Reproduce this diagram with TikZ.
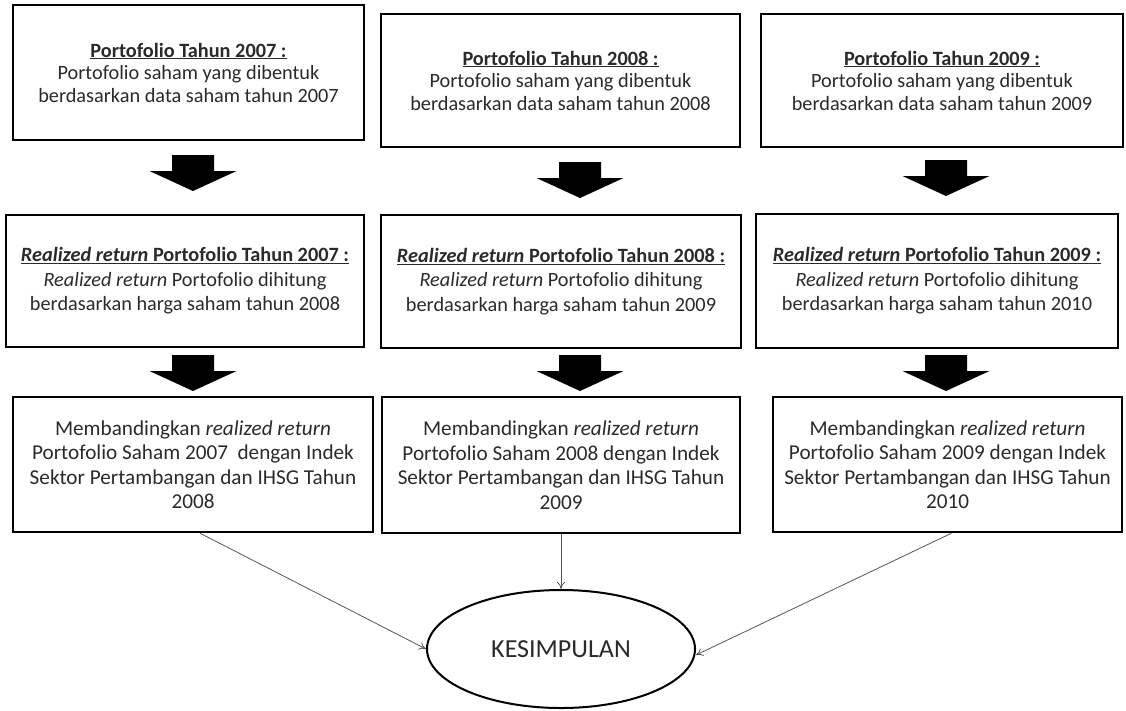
\documentclass[tikz,border=0pt]{standalone}
\usepackage{fontspec}
\setmainfont{Carlito}
\usetikzlibrary{shapes.geometric,arrows.meta}
\definecolor{txt}{HTML}{2A2A2A}
\definecolor{conn}{HTML}{555555}
\newcommand\blockarrow[2]{\fill[black] (#1-21,#2) -- (#1+21,#2) -- (#1+21,#2+16) -- (#1+43.5,#2+16) -- (#1,#2+36) -- (#1-43.5,#2+16) -- (#1-21,#2+16) -- cycle;}
\begin{document}
\begin{tikzpicture}[x=1pt,y=-1pt,
  box/.style={draw=black,line width=2.4pt,rectangle,align=center,inner sep=0pt,
    text=txt,font=\fontsize{20.3}{22.5}\selectfont},
  box2/.style={box,font=\fontsize{20.3}{24.5}\selectfont},
  box3/.style={box,font=\fontsize{21.2}{24.5}\selectfont},
  concl/.style={draw=black,line width=2pt,ellipse,inner sep=0pt,text=txt,
    minimum width=268pt,minimum height=118pt,font=\fontsize{26}{30}\selectfont},
  conn/.style={draw=conn,line width=0.8pt,-{To[length=7pt,width=8pt]}}]
\useasboundingbox (0,0) rectangle (1126,710);
% row 1
\node[box,minimum width=351pt,minimum height=135pt] (b11) at (188.5,72.5)
  {\underline{\textbf{Portofolio Tahun 2007 :}}\\Portofolio saham yang dibentuk\\berdasarkan data saham tahun 2007};
\node[box,minimum width=359pt,minimum height=133pt] (b12) at (560.5,80.5)
  {\underline{\textbf{Portofolio Tahun 2008 :}}\\Portofolio saham yang dibentuk\\berdasarkan data saham tahun 2008};
\node[box,minimum width=362pt,minimum height=133pt] (b13) at (942,80.5)
  {\underline{\textbf{Portofolio Tahun 2009 :}}\\Portofolio saham yang dibentuk\\berdasarkan data saham tahun 2009};
% row 2
\node[box2,minimum width=358pt,minimum height=132pt] (b21) at (185,281)
  {\underline{\textbf{\textit{Realized return} Portofolio Tahun 2007 :}}\\\textit{Realized return} Portofolio dihitung\\berdasarkan harga saham tahun 2008};
\node[box2,minimum width=360pt,minimum height=133pt] (b22) at (561,281.5)
  {\underline{\textbf{\textit{Realized return} Portofolio Tahun 2008 :}}\\\textit{Realized return} Portofolio dihitung\\berdasarkan harga saham tahun 2009};
\node[box2,minimum width=362pt,minimum height=134pt] (b23) at (937,281)
  {\underline{\textbf{\textit{Realized return} Portofolio Tahun 2009 :}}\\\textit{Realized return} Portofolio dihitung\\berdasarkan harga saham tahun 2010};
% row 3
\node[box3,minimum width=360pt,minimum height=135pt] (b31) at (193,464.5)
  {Membandingkan \textit{realized return}\\Portofolio Saham 2007\ \ dengan Indek\\Sektor Pertambangan dan IHSG Tahun\\2008};
\node[box3,minimum width=358pt,minimum height=136pt] (b32) at (561,465)
  {Membandingkan \textit{realized return}\\Portofolio Saham 2008 dengan Indek\\Sektor Pertambangan dan IHSG Tahun\\2009};
\node[box3,minimum width=349pt,minimum height=135pt] (b33) at (947.5,464.5)
  {Membandingkan \textit{realized return}\\Portofolio Saham 2009 dengan Indek\\Sektor Pertambangan dan IHSG Tahun\\2010};
% conclusion
\node[concl] (k) at (561,649) {KESIMPULAN};
% block arrows
\blockarrow{193}{155}
\blockarrow{580}{162}
\blockarrow{946}{160}
\blockarrow{193}{355}
\blockarrow{580}{355}
\blockarrow{946}{355}
% connectors
\draw[conn] ([xshift=7pt]b31.south) -- (k.west);
\draw[conn] (b32.south) -- (k.north);
\draw[conn] ([xshift=4pt]b33.south) -- ([yshift=-6pt]k.east);
\end{tikzpicture}
\end{document}
